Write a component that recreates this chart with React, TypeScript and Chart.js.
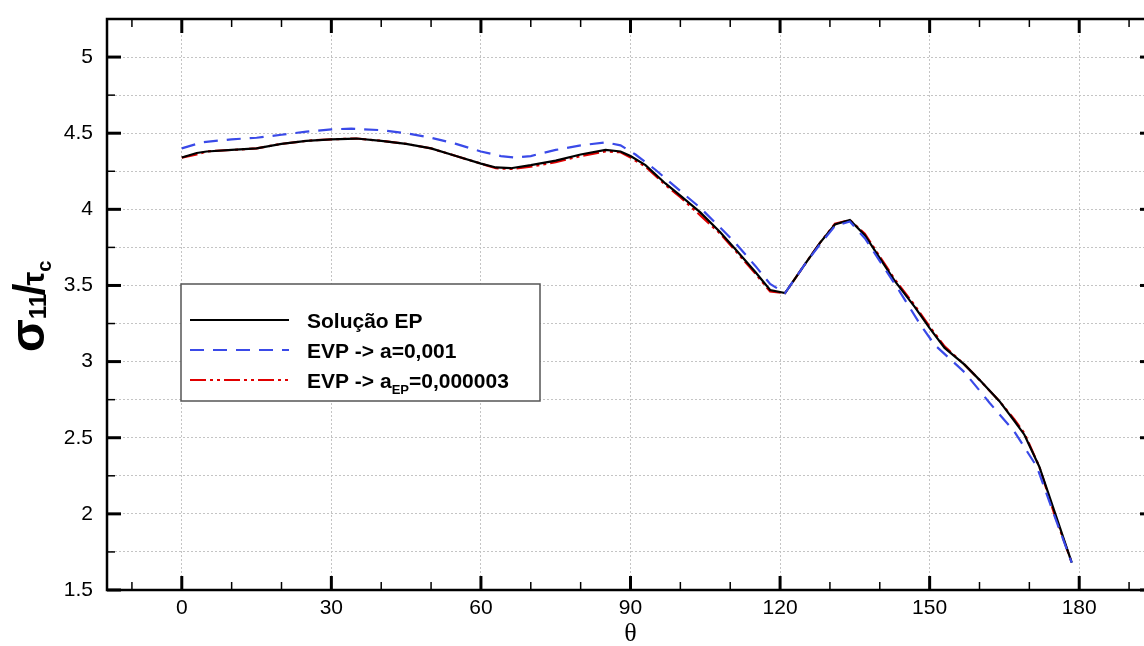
import React, { useEffect, useRef } from 'react';
import { Chart, registerables } from 'chart.js';
Chart.register(...registerables);

// ---- data ----
const thetaEP = [0, 3, 5, 10, 15, 20, 25, 30, 35, 40, 45, 50, 55, 60, 63, 66, 70, 75, 80, 85, 88, 90, 93, 97, 100, 104, 108, 111, 115, 118, 121, 125, 128, 131, 134, 137, 140, 143, 147, 150, 153, 157, 160, 164, 167, 169, 172, 175, 178.5];
const sigmaEP = [4.34, 4.37, 4.38, 4.39, 4.40, 4.43, 4.45, 4.46, 4.465, 4.45, 4.43, 4.40, 4.35, 4.30, 4.275, 4.27, 4.29, 4.32, 4.36, 4.39, 4.38, 4.35, 4.29, 4.17, 4.09, 3.98, 3.85, 3.74, 3.59, 3.47, 3.45, 3.64, 3.78, 3.90, 3.93, 3.83, 3.68, 3.53, 3.36, 3.22, 3.09, 2.98, 2.88, 2.74, 2.61, 2.52, 2.31, 2.02, 1.68];

const thetaEVP = [0, 4, 10, 15, 20, 25, 30, 34, 40, 45, 50, 55, 60, 64, 67, 70, 75, 80, 85, 88, 91, 95, 100, 104, 108, 111, 115, 118, 121, 125, 128, 131, 134, 137, 140, 144, 148, 151, 154, 157, 162, 167, 171.5, 175, 178.5];
const sigmaEVP = [4.40, 4.44, 4.46, 4.47, 4.49, 4.51, 4.525, 4.53, 4.52, 4.50, 4.47, 4.43, 4.38, 4.35, 4.34, 4.35, 4.39, 4.42, 4.44, 4.42, 4.36, 4.26, 4.12, 4.01, 3.88, 3.78, 3.63, 3.51, 3.45, 3.64, 3.77, 3.89, 3.92, 3.81, 3.66, 3.46, 3.25, 3.11, 3.02, 2.93, 2.73, 2.54, 2.31, 1.99, 1.68];

const thetaAEP = [0, 3, 5, 10, 15, 20, 25, 30, 35, 40, 45, 50, 55, 60, 63, 66, 70, 75, 80, 85, 88, 90, 93, 97, 100, 104, 108, 111, 115, 118, 121, 125, 128, 131, 134, 137, 140, 143, 147, 150, 153, 157, 160, 164, 167, 169, 172, 175, 178.5];
const sigmaAEP = [4.34, 4.36, 4.38, 4.39, 4.40, 4.43, 4.45, 4.46, 4.465, 4.45, 4.43, 4.40, 4.35, 4.30, 4.27, 4.265, 4.28, 4.31, 4.35, 4.38, 4.375, 4.34, 4.28, 4.16, 4.08, 3.96, 3.84, 3.73, 3.58, 3.46, 3.45, 3.64, 3.78, 3.905, 3.93, 3.84, 3.69, 3.54, 3.37, 3.23, 3.10, 2.98, 2.88, 2.74, 2.62, 2.53, 2.31, 2.00, 1.68];

const seriesLabels = ['Solução EP', 'EVP -> a=0,001', 'EVP -> a_EP=0,000003'];
const xTitle = 'θ';

const xMajorTicks = [0, 30, 60, 90, 120, 150, 180];
const xMinorTicks = [-10, 10, 20, 40, 50, 70, 80, 100, 110, 130, 140, 160, 170, 190];
const yMajorTicks = [1.5, 2, 2.5, 3, 3.5, 4, 4.5, 5];
const yMinorTicks = [1.75, 2.25, 2.75, 3.25, 3.75, 4.25, 4.75, 5.25];

const COL_BLACK = '#000000';
const COL_BLUE = '#3a4ae8';
const COL_RED = '#e00000';
const DASH_BLUE = [14, 9];
const DASH_RED = [16, 4, 3, 4, 3, 4];

const SANS = '"Liberation Sans", Arial, sans-serif';

const decorPlugin = {
  id: 'decor',
  afterDatasetsDraw(chart: any) {
    const ctx = chart.ctx;
    // legend box
    const bx = 181, by = 284, bw = 359, bh = 117;
    ctx.save();
    ctx.fillStyle = '#fff';
    ctx.fillRect(bx, by, bw, bh);
    ctx.strokeStyle = '#555';
    ctx.lineWidth = 1.5;
    ctx.strokeRect(bx, by, bw, bh);
    const rows = [320, 350, 380];
    const cols = [COL_BLACK, COL_BLUE, COL_RED];
    const dashes = [[], DASH_BLUE, DASH_RED];
    rows.forEach((ry, i) => {
      ctx.beginPath();
      ctx.setLineDash(dashes[i]);
      ctx.strokeStyle = cols[i];
      ctx.lineWidth = 2.2;
      ctx.moveTo(190, ry);
      ctx.lineTo(289, ry);
      ctx.stroke();
    });
    ctx.setLineDash([]);
    ctx.fillStyle = '#000';
    ctx.textBaseline = 'alphabetic';
    ctx.textAlign = 'left';
    ctx.font = `bold 21px ${SANS}`;
    ctx.fillText(seriesLabels[0], 307, rows[0] + 8);
    ctx.fillText(seriesLabels[1], 307, rows[1] + 8);
    const parts = seriesLabels[2].split('_');
    const sub = parts[1].split('=');
    let x = 307;
    ctx.fillText(parts[0], x, rows[2] + 8);
    x += ctx.measureText(parts[0]).width;
    ctx.font = `bold 13px ${SANS}`;
    ctx.fillText(sub[0], x, rows[2] + 14);
    x += ctx.measureText(sub[0]).width;
    ctx.font = `bold 21px ${SANS}`;
    ctx.fillText('=' + sub[1], x, rows[2] + 8);
    ctx.restore();
  },
  afterDraw(chart: any) {
    const ctx = chart.ctx;
    const { left, top, right, bottom } = chart.chartArea;
    const xs = chart.scales.x;
    const ys = chart.scales.y;
    ctx.save();
    ctx.strokeStyle = '#000';
    ctx.lineCap = 'butt';
    const tick = (x1: number, y1: number, x2: number, y2: number, w: number) => {
      ctx.beginPath();
      ctx.lineWidth = w;
      ctx.moveTo(x1, y1);
      ctx.lineTo(x2, y2);
      ctx.stroke();
    };
    xMajorTicks.forEach(v => {
      const p = xs.getPixelForValue(v);
      tick(p, bottom, p, bottom - 14, 3);
      tick(p, top, p, top + 14, 3);
    });
    xMinorTicks.forEach(v => {
      const p = xs.getPixelForValue(v);
      tick(p, bottom, p, bottom - 8, 1.5);
      tick(p, top, p, top + 8, 1.5);
    });
    yMajorTicks.forEach(v => {
      const p = ys.getPixelForValue(v);
      tick(left, p, left + 14, p, 3);
      tick(right, p, right - 14, p, 3);
    });
    yMinorTicks.forEach(v => {
      const p = ys.getPixelForValue(v);
      tick(left, p, left + 8, p, 1.5);
      tick(right, p, right - 8, p, 1.5);
    });
    ctx.lineWidth = 2.5;
    ctx.strokeRect(left, top, right - left, bottom - top);

    // x axis title
    ctx.fillStyle = '#000';
    ctx.textAlign = 'center';
    ctx.textBaseline = 'middle';
    ctx.font = '26px "Liberation Serif", serif';
    ctx.fillText(xTitle, xs.getPixelForValue(90), 634);

    // y axis title: sigma_11 / tau_c
    ctx.translate(44, 352);
    ctx.rotate(-Math.PI / 2);
    ctx.textBaseline = 'alphabetic';
    ctx.textAlign = 'left';
    let x = 0;
    ctx.font = `bold 48px ${SANS}`;
    ctx.fillText('σ', x, 0);
    x += ctx.measureText('σ').width;
    ctx.font = `bold 24px ${SANS}`;
    ctx.fillText('11', x, 2);
    x += ctx.measureText('11').width;
    ctx.font = `bold 44px ${SANS}`;
    ctx.fillText('/', x - 2, 0);
    x += ctx.measureText('/').width - 4;
    ctx.font = `bold 31px ${SANS}`;
    ctx.fillText('τ', x, 0);
    x += ctx.measureText('τ').width;
    ctx.font = `bold 20px ${SANS}`;
    ctx.fillText('c', x, 7);
    ctx.restore();
  },
};

export default function App() {
  const ref = useRef<HTMLCanvasElement | null>(null);
  useEffect(() => {
    if (!ref.current) return;
    const mk = (t: number[], s: number[]) => t.map((v, i) => ({ x: v, y: s[i] }));
    const chart = new Chart(ref.current, {
      type: 'line',
      data: {
        datasets: [
          { label: seriesLabels[0], data: mk(thetaEP, sigmaEP), borderColor: COL_BLACK, borderWidth: 2.2, pointRadius: 0, tension: 0, order: 1 },
          { label: seriesLabels[1], data: mk(thetaEVP, sigmaEVP), borderColor: COL_BLUE, borderWidth: 2.2, borderDash: DASH_BLUE, pointRadius: 0, tension: 0, order: 0 },
          { label: seriesLabels[2], data: mk(thetaAEP, sigmaAEP), borderColor: COL_RED, borderWidth: 2.2, borderDash: DASH_RED, pointRadius: 0, tension: 0, order: 2 },
        ],
      },
      options: {
        responsive: false,
        animation: false,
        layout: { padding: { left: 0, right: 6, top: 19, bottom: 0 } },
        plugins: { legend: { display: false }, tooltip: { enabled: false } },
        scales: {
          x: {
            type: 'linear',
            min: -15,
            max: 195,
            afterBuildTicks: (s: any) => { s.ticks = xMajorTicks.map(v => ({ value: v })); },
            afterFit: (s: any) => { s.height = 56; s.paddingLeft = 0; s.paddingRight = 0; },
            grid: { color: '#c4c4c4', lineWidth: 1, drawTicks: false },
            border: { display: false, dash: [2, 2] },
            ticks: { padding: 6, autoSkip: false, maxRotation: 0, color: '#000', font: { family: SANS, size: 21 } },
          },
          y: {
            type: 'linear',
            min: 1.5,
            max: 5.25,
            afterBuildTicks: (s: any) => {
              s.ticks = [...yMajorTicks, ...yMinorTicks].sort((a, b) => a - b).map(v => ({ value: v }));
            },
            afterFit: (s: any) => { s.width = 107; s.paddingTop = 0; s.paddingBottom = 0; },
            grid: { color: '#c4c4c4', lineWidth: 1, drawTicks: false },
            border: { display: false, dash: [2, 2] },
            ticks: {
              padding: 14,
              autoSkip: false,
              color: '#000',
              font: { family: SANS, size: 21 },
              callback: (v: any) => (yMajorTicks.includes(Number(v)) ? String(v) : ''),
            },
          },
        },
      },
      plugins: [decorPlugin],
    } as any);
    return () => chart.destroy();
  }, []);
  return (
    <div style={{ position: 'fixed', left: 0, top: 0, width: 1144, height: 646, overflow: 'hidden', background: '#fff' }}>
      <canvas ref={ref} width={1160} height={646} style={{ display: 'block', width: 1160, height: 646 }} />
    </div>
  );
}
